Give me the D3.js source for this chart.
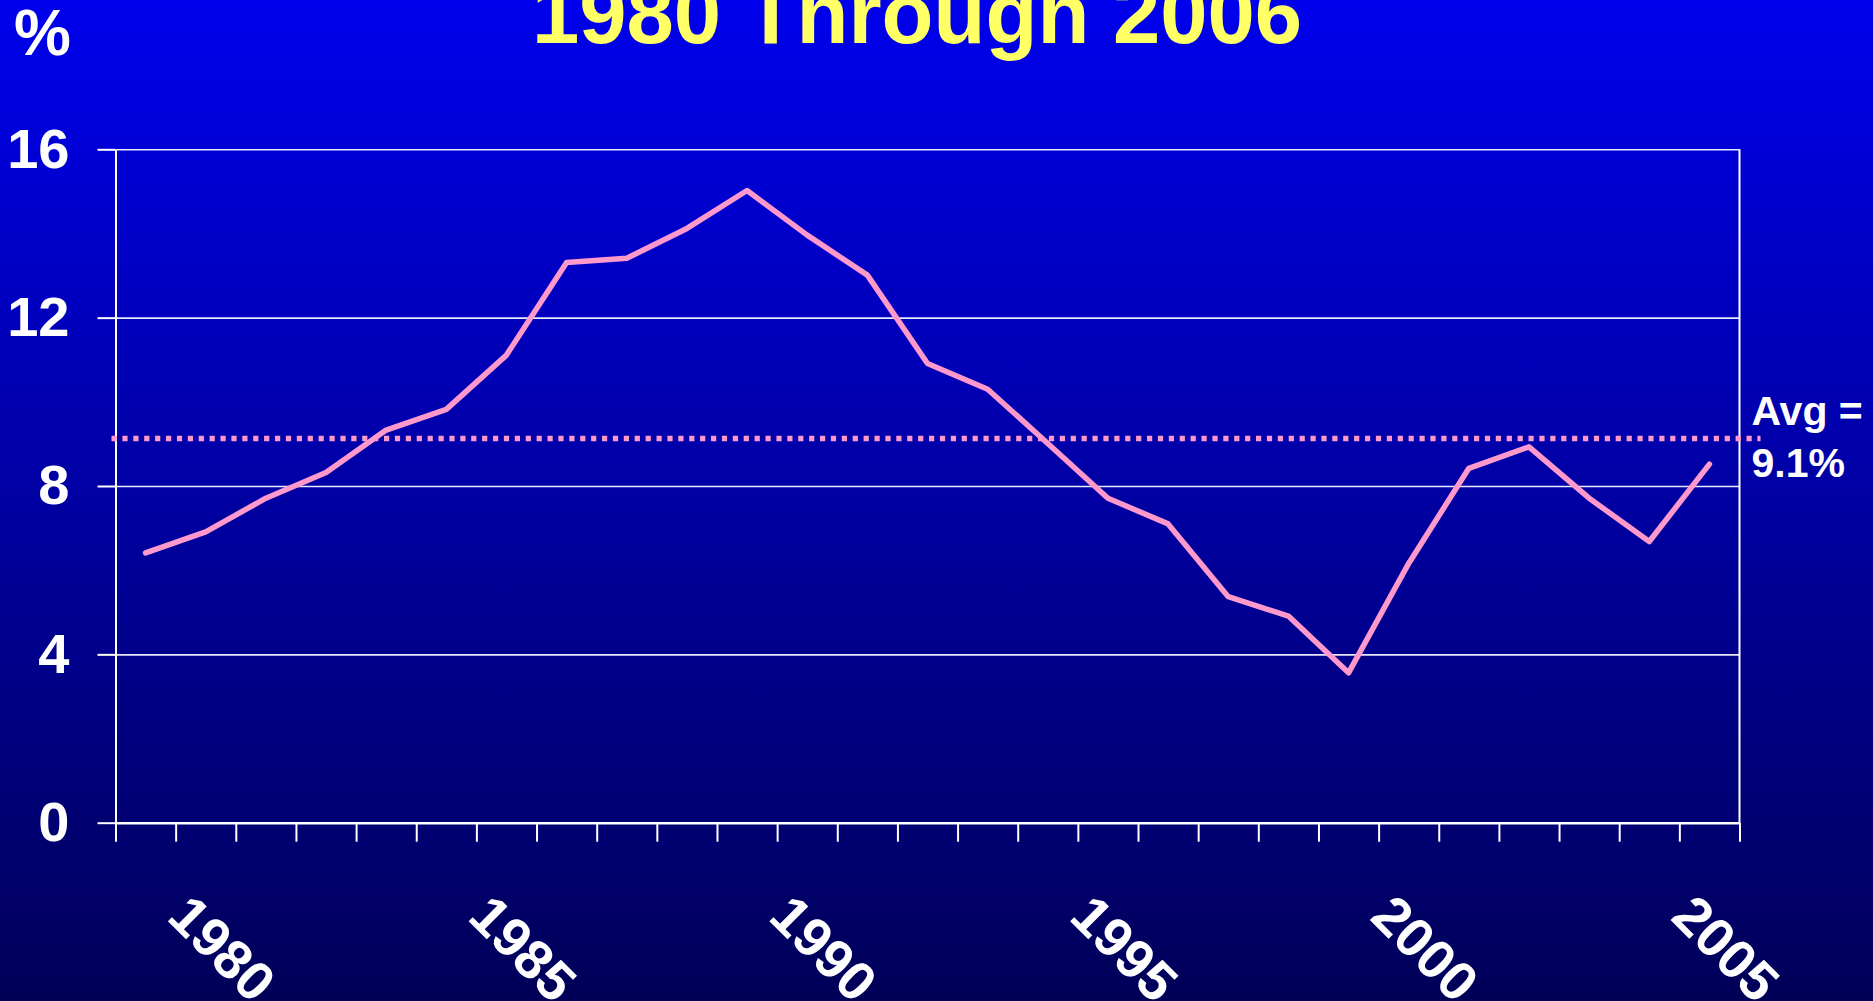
<!DOCTYPE html>
<html>
<head>
<meta charset="utf-8">
<script src="https://cdn.jsdelivr.net/npm/d3@7"></script>
<style>
	body { margin: 0; overflow: hidden; background: #000060; }
	text { font-family: "Liberation Sans", Arial, sans-serif; font-weight: bold; }
</style>
</head>
<body>
<svg id="chart"></svg>
<script>

// values
const years = [1980, 1981, 1982, 1983, 1984, 1985, 1986, 1987, 1988, 1989,
	1990, 1991, 1992, 1993, 1994, 1995, 1996, 1997, 1998, 1999,
	2000, 2001, 2002, 2003, 2004, 2005, 2006];
const rates = [6.41, 6.91, 7.71, 8.32, 9.33, 9.82, 11.11, 13.31, 13.41, 14.12,
	15.02, 13.96, 13.01, 10.91, 10.30, 9.01, 7.71, 7.10, 5.37, 4.91,
	3.56, 6.16, 8.42, 8.93, 7.71, 6.68, 8.52];
const yTicks = [0, 4, 8, 12, 16];
const xLabelYears = [1980, 1985, 1990, 1995, 2000, 2005];
const avgRate = 9.13;
const avgLabel = ["Avg =", "9.1%"];
const titleText = "1980 Through 2006";
const unitText = "%";

class LineChart {

	constructor(_config, _data) {
		this.config = {
			parentElement: _config.parentElement,
			containerWidth: _config.containerWidth || 1873,
			containerHeight: _config.containerHeight || 1001,
			margin: { top: 149.3, bottom: 178.3, right: 133.5, left: 115.5 }
		}
		this.data = _data;
		this.initVis();
	}

	initVis()
	{
		let vis = this;
		let m = vis.config.margin;

		vis.width = vis.config.containerWidth - m.left - m.right;
		vis.height = vis.config.containerHeight - m.top - m.bottom;

		vis.svg = d3.select(vis.config.parentElement)
			.attr('width', vis.config.containerWidth)
			.attr('height', vis.config.containerHeight);

		// background gradient like the slide
		let grad = vis.svg.append('defs').append('linearGradient')
			.attr('id', 'bg')
			.attr('x1', 0).attr('y1', 0).attr('x2', 0).attr('y2', 1);
		grad.append('stop').attr('offset', '0%').attr('stop-color', '#0000EC');
		grad.append('stop').attr('offset', '100%').attr('stop-color', '#000058');

		vis.svg.append('rect')
			.attr('width', vis.config.containerWidth)
			.attr('height', vis.config.containerHeight)
			.attr('fill', 'url(#bg)');

		vis.chart = vis.svg.append('g')
			.attr('transform', `translate(${m.left},${m.top})`);

		vis.x = d3.scaleBand()
			.domain(vis.data.map(d => d.year))
			.range([0, vis.width]);

		// boundaries between the year bands, for the tick marks
		vis.xEdges = d3.scaleLinear()
			.domain([0, years.length])
			.range([0, vis.width]);

		vis.y = d3.scaleLinear()
			.domain([0, 16])
			.range([vis.height, 0]);

		// gridlines
		vis.chart.append('g')
			.call(d3.axisLeft(vis.y).tickValues(yTicks).tickSize(-vis.width).tickFormat(''))
			.call(g => g.select('.domain').remove())
			.selectAll('line')
				.attr('stroke', '#E8E8FF')
				.attr('stroke-width', 1.6);

		// y axis with labels
		let yAxis = vis.chart.append('g')
			.call(d3.axisLeft(vis.y).tickValues(yTicks).tickSize(18).tickPadding(28).tickSizeOuter(0));
		yAxis.select('.domain').attr('stroke', '#fff').attr('stroke-width', 2);
		yAxis.selectAll('line').attr('stroke', '#fff').attr('stroke-width', 2);
		yAxis.selectAll('text')
			.attr('fill', '#fff')
			.attr('font-size', 56)
			.attr('font-family', '"Liberation Sans", Arial, sans-serif')
			.attr('font-weight', 'bold');

		// right border of plot
		vis.chart.append('line')
			.attr('x1', vis.width).attr('x2', vis.width)
			.attr('y1', 0).attr('y2', vis.height)
			.attr('stroke', '#fff')
			.attr('stroke-width', 2);

		// x axis, ticks on band edges
		let xAxis = vis.chart.append('g')
			.attr('transform', `translate(0,${vis.height})`)
			.call(d3.axisBottom(vis.xEdges).tickValues(d3.range(years.length + 1)).tickSize(19).tickFormat('').tickSizeOuter(0));
		xAxis.select('.domain').attr('stroke', '#fff').attr('stroke-width', 2.5);
		xAxis.selectAll('line').attr('stroke', '#fff').attr('stroke-width', 2);

		vis.chart.append('g')
			.selectAll('text')
			.data(xLabelYears)
			.join('text')
				.attr('transform', d => `translate(${vis.x(d) + vis.x.bandwidth() / 2 + 20},${vis.height + 96}) rotate(45)`)
				.attr('fill', '#fff')
				.attr('font-size', 55)
				.text(d => d);

		// average line
		let ya = vis.y(avgRate);
		vis.chart.append('line')
			.attr('x1', -4).attr('x2', vis.width + 21)
			.attr('y1', ya).attr('y2', ya)
			.attr('stroke', '#FF99CC')
			.attr('stroke-width', 5.5)
			.attr('stroke-dasharray', '5.2 5.7');

		vis.chart.append('g')
			.selectAll('text')
			.data(avgLabel)
			.join('text')
				.attr('x', vis.width + 12)
				.attr('y', (d, i) => ya - 13 + i * 51.7)
				.attr('fill', '#fff')
				.attr('font-size', 41)
				.text(d => d);

		// the series
		let line = d3.line()
			.x(d => vis.x(d.year) + vis.x.bandwidth() / 2)
			.y(d => vis.y(d.rate));

		vis.chart.append('path')
			.datum(vis.data)
			.attr('d', line)
			.attr('fill', 'none')
			.attr('stroke', '#FF99CC')
			.attr('stroke-width', 5.5)
			.attr('stroke-linejoin', 'round')
			.attr('stroke-linecap', 'round');

		// title and unit
		vis.svg.append('text')
			.attr('x', 917)
			.attr('y', 43)
			.attr('text-anchor', 'middle')
			.attr('fill', '#FFFF66')
			.attr('font-size', 85)
			.text(titleText);

		vis.svg.append('text')
			.attr('x', 14)
			.attr('y', 55)
			.attr('fill', '#fff')
			.attr('font-size', 64)
			.text(unitText);
	}
}

let data = years.map((yr, i) => ({ year: yr, rate: rates[i] }));
let chart = new LineChart({ parentElement: '#chart' }, data);

</script>
</body>
</html>
